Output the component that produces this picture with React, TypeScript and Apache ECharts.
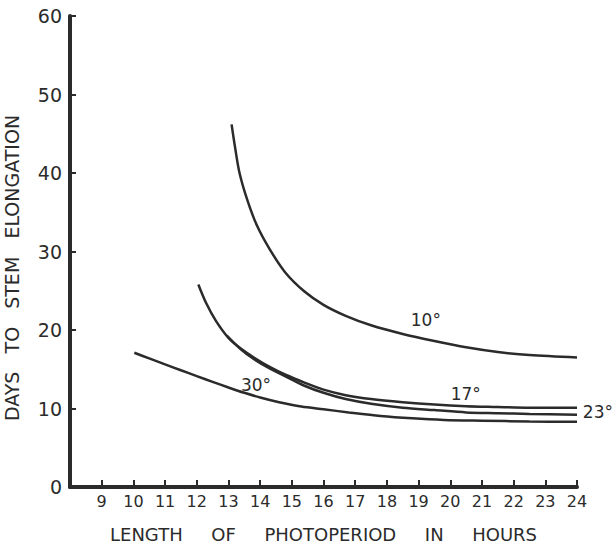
import React, { useEffect, useRef } from "react";
import * as echarts from "echarts";

const xTicks = { min: 8, max: 24, interval: 1 };
const yTicks = { min: 0, max: 60, interval: 10 };

const curve10: [number, number][] = [
  [13.1, 46.2], [13.2, 43.5], [13.35, 40.0], [13.6, 36.5], [13.9, 33.3], [14.3, 30.3],
  [14.8, 27.3], [15.4, 24.9], [16.0, 23.2], [16.7, 21.8], [17.5, 20.6], [18.5, 19.5],
  [19.5, 18.6], [20.5, 17.8], [21.5, 17.2], [22.5, 16.8], [24.0, 16.5],
];
const curve17: [number, number][] = [
  [12.05, 25.8], [12.3, 23.4], [12.6, 21.2], [13.0, 19.0], [13.4, 17.6], [13.8, 16.5],
  [14.3, 15.3], [14.8, 14.3], [15.4, 13.3], [16.0, 12.4], [16.7, 11.7], [17.5, 11.2],
  [18.5, 10.8], [19.5, 10.5], [20.5, 10.3], [21.5, 10.2], [22.5, 10.1], [24.0, 10.1],
];
const curve23: [number, number][] = [
  [12.95, 19.3], [13.4, 17.5], [13.8, 16.3], [14.3, 15.1], [14.8, 14.1], [15.4, 12.9],
  [16.0, 12.0], [16.7, 11.2], [17.5, 10.6], [18.5, 10.1], [19.5, 9.8], [20.5, 9.5],
  [21.5, 9.4], [22.5, 9.3], [24.0, 9.2],
];
const curve30: [number, number][] = [
  [10.03, 17.1], [10.5, 16.38], [11.0, 15.62], [11.5, 14.87], [12.0, 14.13], [12.5, 13.4],
  [13.0, 12.68], [13.5, 12.0], [14.0, 11.4], [14.6, 10.8], [15.3, 10.25], [16.0, 9.9],
  [16.8, 9.5], [17.8, 9.05], [18.8, 8.75], [19.8, 8.55], [21.0, 8.45], [22.5, 8.35], [24.0, 8.3],
];
const curveLabels: { name: string; value: [number, number] }[] = [
  { name: "10°", value: [19.23, 21.3] },
  { name: "17°", value: [20.49, 11.8] },
  { name: "23°", value: [24.66, 9.55] },
  { name: "30°", value: [13.87, 13.0] },
];

const xName = "LENGTH     OF     PHOTOPERIOD     IN     HOURS";
const yName = "DAYS   TO   STEM   ELONGATION";

const INK = "#2b2b2b";
const FONT = "DejaVu Sans";

export default function App() {
  const ref = useRef<HTMLDivElement>(null);
  useEffect(() => {
    if (!ref.current) return;
    const chart = echarts.init(ref.current, undefined, { renderer: "svg" });
    const lineSeries = (data: [number, number][]) => ({
      type: "line",
      data,
      smooth: 0.3,
      showSymbol: false,
      symbol: "none",
      lineStyle: { color: INK, width: 2.5 },
    });
    chart.setOption({
      animation: false,
      backgroundColor: "#ffffff",
      grid: { left: 70, right: 38, top: 16, bottom: 62, outerBoundsMode: "none", containLabel: false },
      graphic: [
        {
          type: "text",
          x: 12,
          y: 268,
          rotation: Math.PI / 2,
          style: {
            text: yName,
            fontFamily: FONT,
            fontSize: 19,
            fill: INK,
            textAlign: "center",
            textVerticalAlign: "middle",
          },
        },
      ],
      xAxis: {
        type: "value",
        min: xTicks.min,
        max: xTicks.max,
        interval: xTicks.interval,
        name: xName,
        nameLocation: "middle",
        nameGap: 38,
        nameTextStyle: { fontFamily: FONT, fontSize: 18, color: INK },
        axisLine: { lineStyle: { color: INK, width: 4 } },
        axisTick: { inside: true, length: 7, lineStyle: { color: INK, width: 2 } },
        axisLabel: {
          showMinLabel: false,
          fontFamily: FONT,
          fontSize: 16,
          color: INK,
          margin: 6,
        },
        splitLine: { show: false },
      },
      yAxis: {
        type: "value",
        min: yTicks.min,
        max: yTicks.max,
        interval: yTicks.interval,
        axisLine: { lineStyle: { color: INK, width: 4 } },
        axisTick: { inside: true, length: 6, lineStyle: { color: INK, width: 2 } },
        axisLabel: { fontFamily: FONT, fontSize: 19, color: INK, margin: 8 },
        splitLine: { show: false },
      },
      series: [
        lineSeries(curve10),
        lineSeries(curve17),
        lineSeries(curve23),
        lineSeries(curve30),
        {
          type: "scatter",
          data: curveLabels,
          symbolSize: 0,
          clip: false,
          itemStyle: { opacity: 1 },
          label: {
            show: true,
            position: "inside",
            formatter: (p: any) => p.name,
            fontFamily: FONT,
            fontSize: 17,
            color: INK,
            opacity: 1,
          },
        },
      ],
    });
    return () => chart.dispose();
  }, []);
  return (
    <div
      ref={ref}
      style={{ position: "absolute", left: 0, top: 0, width: 615, height: 549 }}
    />
  );
}
